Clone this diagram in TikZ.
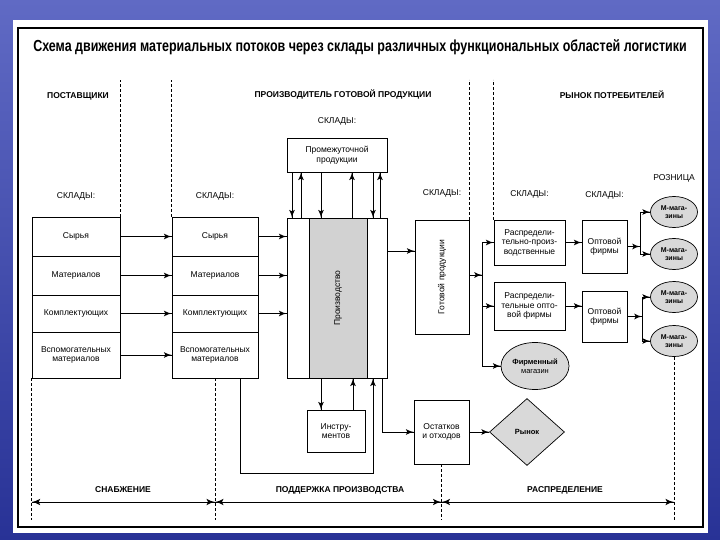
\documentclass[tikz,border=0pt]{standalone}
\usepackage{fontspec}
\setmainfont{Liberation Sans}
\newfontfamily\titlefont[FakeStretch=0.78]{Liberation Sans}
\usetikzlibrary{arrows}
\usetikzlibrary{decorations.markings}
\usetikzlibrary{positioning}
\usetikzlibrary{shapes.geometric}
\definecolor{skyblue}{RGB}{96,106,196}
\definecolor{deepblue}{RGB}{40,50,150}
\tikzset{flow/.style = {decoration={markings,
                                    mark=at position 1 with {\arrow[scale=1.6]{latex'}}},
                        postaction={decorate}}}
\tikzset{dim/.style = {line width = 0.5pt,
                       decoration={markings,
                                   mark=at position 0 with {\arrowreversed[scale=2]{latex'}},
                                   mark=at position 1 with {\arrow[scale=2]{latex'}}},
                       postaction={decorate}}}
\tikzset{sep/.style = {densely dashed, line width = 0.5pt}}
\tikzset{cell/.style = {draw, inner sep = 1, align = center,
                        font = \fontsize{8.5}{9.5}\selectfont}}
\tikzset{oval/.style = {draw, ellipse, fill = gray!30, inner sep = 0, align = center,
                        font = \fontsize{7}{8}\selectfont\bfseries}}
\tikzset{head/.style = {font = \fontsize{8.5}{10}\selectfont\bfseries}}
\tikzset{store/.style = {font = \fontsize{8.5}{10}\selectfont}}

\begin{document}
\begin{tikzpicture}[x=1pt, y=-1pt, line width=0.7pt]
  \useasboundingbox (0,0) rectangle (720,540);
  \shade[top color=skyblue, bottom color=deepblue] (0,0) rectangle (720,540);
  \fill[white] (13,20) rectangle (708,533);
  \draw[line width=2pt] (18,28) rectangle (703,527);

  \node[font=\titlefont\fontsize{16}{18}\selectfont\bfseries] (title) at (360,47)
    {Схема движения материальных потоков через склады различных функциональных областей логистики};

  \node[head] (suppliers) at (78,96) {ПОСТАВЩИКИ};
  \node[head] (maker) at (343,95) {ПРОИЗВОДИТЕЛЬ ГОТОВОЙ ПРОДУКЦИИ};
  \node[head] (buyers) at (612,95) {РЫНОК ПОТРЕБИТЕЛЕЙ};

  % production block
  \node[draw, minimum width=100, minimum height=160] (prod) at (337,298) {};
  \node[cell, fill=gray!35, minimum width=58, minimum height=160, inner sep=0] (core) at (338,298)
    {\rotatebox{90}{Производство}};
  \node[cell, minimum width=100, minimum height=34] (mid) at (337,155) {Промежуточной\\продукции};

  % storage columns
  \foreach \i/\y/\h/\t in {1/236.5/39/Сырья, 2/275.5/39/Материалов, 3/313.5/37/Комплектующих,
                           4/355/46/{Вспомогательных\\материалов}} {
    \node[cell, minimum width=88, minimum height=\h] (s\i) at (76,\y) {\t};
    \node[cell, minimum width=86, minimum height=\h] (m\i) at (215,\y) {\t};
    \draw[flow] (s\i) -- (m\i);
  }
  \foreach \i in {1,2,3}
    \draw[flow] (m\i) -- (m\i -| prod.west);

  \foreach \x in {292,321,373}
    \draw[flow] (mid.south -| \x,0) -- (prod.north -| \x,0);
  \foreach \x in {301,352,380}
    \draw[flow] (prod.north -| \x,0) -- (mid.south -| \x,0);

  \node[cell, minimum width=58, minimum height=42] (inst) at (336,431) {Инстру-\\ментов};
  \draw[flow] (prod.south -| 321,0) -- (inst.north -| 321,0);
  \draw[flow] (inst.north -| 353,0) -- (prod.south -| 353,0);
  \draw[flow] (m4.south -| 240,0) -- ++(0,95) -| (prod.south -| 373,0);

  \node[cell, minimum width=55, minimum height=64] (rest) at (441.5,432) {Остатков\\и отходов};
  \draw[flow] (prod.south -| 382,0) |- (rest);
  \node[draw, diamond, fill=gray!30, minimum width=75, minimum height=67, inner sep=0,
        font=\fontsize{7.5}{8}\selectfont\bfseries] (market) at (527,432) {Рынок};
  \draw[flow] (rest) -- (market);

  % finished goods and distribution
  \node[cell, minimum width=54, minimum height=114] (goods) at (442,277)
    {\rotatebox{90}{Готовой продукции}};
  \draw[flow] (prod.east |- 0,251) -- (goods.west |- 0,251);
  \coordinate (bus1) at (482,275);
  \draw[flow] (goods.east |- bus1) -- (bus1);

  \node[cell, minimum width=71, minimum height=45] (rp1) at (529.5,242.5) {Распредели-\\тельно-произ-\\водственные};
  \node[cell, minimum width=71, minimum height=48] (rp2) at (529.5,306) {Распредели-\\тельные опто-\\вой фирмы};
  \node[oval, minimum width=68, minimum height=47, font=\fontsize{7.5}{9}\selectfont] (firm) at (535,366)
    {{\bfseries Фирменный}\\магазин};
  \draw (rp1.west -| bus1) -- (firm.west -| bus1);
  \foreach \n in {rp1,rp2,firm}
    \draw[flow] (\n.west -| bus1) -- (\n.west);

  \node[cell, minimum width=45, minimum height=53] (opt1) at (604.5,246.5) {Оптовой\\фирмы};
  \node[cell, minimum width=45, minimum height=51] (opt2) at (604.5,316.5) {Оптовой\\фирмы};
  \draw[flow] (rp1) -- (rp1 -| opt1.west);
  \draw[flow] (rp2) -- (rp2 -| opt2.west);

  \foreach \i/\y in {1/212,2/254,3/297,4/341}
    \node[oval, minimum width=47, minimum height=31] (shop\i) at (674,\y) {М-мага-\\зины};
  \coordinate (bus2) at (640,246.5);
  \coordinate (bus3) at (642,316.5);
  \draw[flow] (opt1) -- (bus2);
  \draw[flow] (opt2) -- (bus3);
  \draw (shop1.west -| bus2) -- (shop2.west -| bus2);
  \draw (shop3.west -| bus3) -- (shop4.west -| bus3);
  \foreach \i in {1,2}
    \draw[flow] (shop\i.west -| bus2) -- (shop\i.west);
  \foreach \i in {3,4}
    \draw[flow] (shop\i.west -| bus3) -- (shop\i.west);

  % storage labels
  \node[store, above=13pt of s1] (s0) {СКЛАДЫ:};
  \node[store, above=13pt of m1] (m0) {СКЛАДЫ:};
  \node[store, above=9pt of mid] (mid0) {СКЛАДЫ:};
  \node[store, above=19pt of goods] (goods0) {СКЛАДЫ:};
  \node[store, above=18pt of rp1] (rp0) {СКЛАДЫ:};
  \node[store, above=17pt of opt1] (opt0) {СКЛАДЫ:};
  \node[store, above=10pt of shop1] (shop0) {РОЗНИЦА};

  % area borders
  \draw[sep] (s1.north east) -- ++(0,-137);
  \draw[sep] (m1.north west) -- ++(0,-137);
  \draw[sep] (goods.north east) -- ++(0,-140);
  \draw[sep] (rp1.north west) -- ++(0,-140);
  \draw[sep] (s4.south west) -- ++(0,142);
  \draw[sep] (m4.south) -- ++(0,142);
  \draw[sep] (rest.south) -- ++(0,56);
  \draw[sep] (shop4.south) -- ++(0,163);

  \draw[dim] (s4.south west |- 0,502) -- (m4.south |- 0,502);
  \draw[dim] (m4.south |- 0,502) -- (rest.south |- 0,502);
  \draw[dim] (rest.south |- 0,502) -- (shop4.south |- 0,502);
  \node[head] (supply) at (123,490) {СНАБЖЕНИЕ};
  \node[head] (support) at (340,490) {ПОДДЕРЖКА ПРОИЗВОДСТВА};
  \node[head] (sales) at (565,490) {РАСПРЕДЕЛЕНИЕ};
\end{tikzpicture}
\end{document}
